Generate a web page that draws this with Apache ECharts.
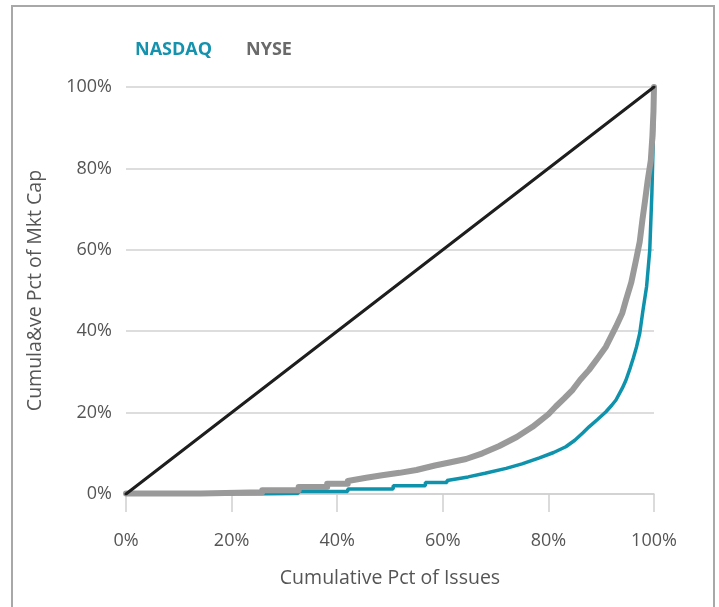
<!DOCTYPE html>
<html>
<head>
<meta charset="utf-8">
<script src="https://cdn.jsdelivr.net/npm/echarts@6/dist/echarts.min.js"></script>
<style>
html,body{margin:0;padding:0;background:#fff;}
#chart{width:719px;height:607px;}
</style>
</head>
<body>
<div id="chart"></div>
<script>
// Cumulative pct of issues (x) and cumulative pct of market cap (y)
const nasdaqX = [0, 25.8, 25.8, 32.6, 32.6, 42, 42, 50.6, 50.6, 56.7, 56.7, 60.8, 60.8, 64.8, 68, 72, 75, 78.3, 81, 83.3, 85, 86.5, 87.7, 89.3, 90.9, 92, 92.8, 94, 94.7, 95.5, 96.1, 96.7, 97.3, 97.9, 98.6, 99.2, 99.6, 99.8, 100, 100];
const nasdaqY = [0, 0, 0.1, 0.1, 0.6, 0.6, 1.2, 1.2, 2.0, 2.0, 2.8, 2.8, 3.3, 4.2, 5.1, 6.3, 7.4, 8.9, 10.2, 11.6, 13.2, 15, 16.5, 18.3, 20.2, 21.8, 23.1, 26, 28, 31, 33.5, 36.2, 39.5, 45, 51, 60, 74, 84, 92, 100];

const nyseX = [0, 14.2, 14.2, 25.8, 25.8, 32.7, 32.7, 38.1, 38.1, 42, 42, 45.5, 48.5, 51.8, 55, 58.5, 61.5, 64.4, 67.5, 70.7, 74, 77, 80, 81.4, 83, 84.6, 86, 87.7, 89.3, 90.9, 92.8, 94, 94.7, 95.7, 96.6, 97.3, 97.8, 98.3, 98.8, 99.4, 99.7, 99.9, 100];
const nyseY = [0.1, 0.1, 0.4, 0.4, 0.9, 0.9, 1.7, 1.7, 2.5, 2.5, 3.2, 4.0, 4.6, 5.2, 5.9, 7.0, 7.8, 8.6, 10.0, 11.8, 14.0, 16.5, 19.6, 21.5, 23.5, 25.6, 28, 30.5, 33.3, 36.2, 41.1, 44.5, 47.7, 52, 57.5, 62, 67.3, 72, 77, 82, 88, 94, 100];

const equalityX = [0, 100];
const equalityY = [0, 100];

const xTicks = [0, 20, 40, 60, 80, 100];
const yTicks = [0, 20, 40, 60, 80, 100];

const legendNames = ['NASDAQ', 'NYSE'];
const xName = 'Cumulative Pct of Issues';
const yName = 'Cumula&ve Pct of Mkt Cap';

function pairs(xs, ys) { return xs.map((x, i) => [x, ys[i]]); }

const chart = echarts.init(document.getElementById('chart'));
const font = 'Open Sans';
chart.setOption({
  animation: false,
  backgroundColor: '#fff',
  textStyle: { fontFamily: font },
  graphic: [{
    type: 'rect',
    shape: { x: 12, y: 6, width: 702, height: 700 },
    style: { fill: 'none', stroke: '#a8a8a8', lineWidth: 2 },
    silent: true, z: -10
  }],
  legend: {
    left: 125, top: 36,
    icon: 'none', itemWidth: 0, itemGap: 29,
    selectedMode: false,
    data: [
      { name: legendNames[0], textStyle: { color: '#1592ad' } },
      { name: legendNames[1], textStyle: { color: '#6a6a6a' } }
    ],
    textStyle: { fontFamily: font, fontSize: 18, fontWeight: 'bold' }
  },
  grid: { left: 126, right: 65, top: 87, bottom: 113, containLabel: false },
  xAxis: {
    type: 'value', min: 0, max: 100, interval: 20,
    name: xName, nameLocation: 'middle', nameGap: 74,
    nameTextStyle: { color: '#555', fontSize: 19.5, fontFamily: font },
    axisLine: { show: true, lineStyle: { color: '#cfcfcf', width: 1.5 } },
    axisTick: { show: true, length: 18, lineStyle: { color: '#cfcfcf', width: 1.5 } },
    axisLabel: { color: '#555', fontSize: 18, margin: 38, formatter: v => v + '%',
      customValues: xTicks },
    splitLine: { show: false }
  },
  yAxis: {
    type: 'value', min: 0, max: 100, interval: 20,
    name: yName, nameLocation: 'middle', nameGap: 81, nameRotate: 90,
    nameTextStyle: { color: '#555', fontSize: 19.5, fontFamily: font },
    axisLine: { show: false },
    axisTick: { show: false },
    axisLabel: { color: '#555', fontSize: 18, margin: 14, formatter: v => v + '%',
      customValues: yTicks },
    splitLine: { show: true, lineStyle: { color: '#d2d2d2', width: 1.5 } }
  },
  series: [
    {
      name: legendNames[0], type: 'line', data: pairs(nasdaqX, nasdaqY),
      showSymbol: false, symbol: 'none', color: '#0f92ac',
      lineStyle: { color: '#0f92ac', width: 3.5 }, z: 2
    },
    {
      name: legendNames[1], type: 'line', data: pairs(nyseX, nyseY),
      showSymbol: false, symbol: 'none', color: '#9a9a9a',
      lineStyle: { color: '#9a9a9a', width: 6, cap: 'round', join: 'round' }, z: 3
    },
    {
      name: 'Equality', type: 'line', data: pairs(equalityX, equalityY),
      showSymbol: false, symbol: 'none',
      lineStyle: { color: '#1e1e1e', width: 3, cap: 'round' }, z: 4
    }
  ]
});
</script>
</body>
</html>
